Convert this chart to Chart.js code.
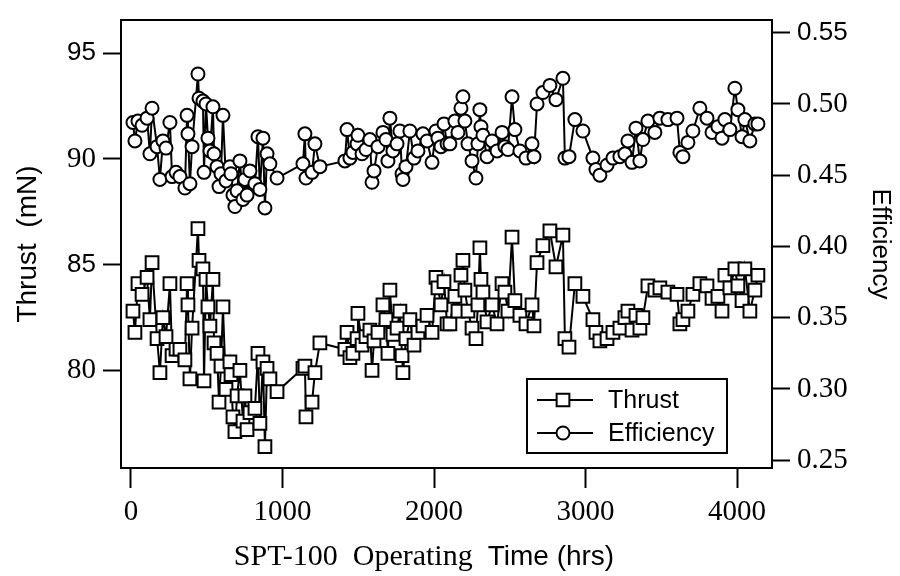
<!DOCTYPE html>
<html>
<head>
<meta charset="utf-8">
<script src="https://cdn.jsdelivr.net/npm/chart.js@4.4.0/dist/chart.umd.min.js"></script>
<style>
  html, body { margin: 0; padding: 0; background: #fff; }
  canvas { display: block; }
</style>
</head>
<body>
<canvas id="chart" width="900" height="576"></canvas>
<script>
// operating time of each test point (hrs)
var hours = [13, 26, 46, 73, 106, 125, 139, 172, 191, 211, 231, 257, 271, 297, 323, 356, 370, 376, 389, 403,
  442, 449, 475, 482, 495, 508, 521, 541, 548, 568, 581, 594, 607, 627, 653, 660, 673, 686, 700, 719,
  739, 752, 766, 785, 818, 838, 851, 871, 884, 898, 917, 964,
  1135, 1148, 1155, 1195, 1214, 1247,
  1412, 1426, 1445, 1465, 1492, 1498, 1525, 1551, 1577, 1591, 1604, 1630, 1663, 1683, 1696, 1709, 1729, 1756,
  1775, 1789, 1795, 1815, 1841, 1868, 1894, 1927, 1954, 1987, 2013, 2026, 2046, 2066, 2086,
  2105, 2138, 2158, 2178, 2191, 2204, 2224, 2251, 2277, 2290, 2303, 2310, 2323, 2350, 2383, 2416, 2449, 2468,
  2488, 2515, 2534, 2567, 2607, 2647, 2660, 2680,
  2719, 2765, 2805, 2851, 2864, 2891, 2930, 2983, 3049, 3069, 3095,
  3142, 3181, 3227, 3260, 3280, 3307, 3333, 3359, 3379, 3412, 3458, 3491, 3544, 3604, 3623, 3643, 3676, 3709,
  3755, 3802, 3835, 3874, 3901, 3920, 3953, 3986, 4006, 4033, 4052, 4085, 4118, 4138];

// thrust (mN)
var thrust = [82.8, 81.8, 84.1, 83.6, 84.4, 82.4, 85.1, 81.5, 79.9, 82.5, 81.6, 84.1, 80.7, 81.0, 81.0, 80.5, 84.1, 83.1, 79.6, 82.0,
  86.7, 85.2, 84.8, 79.5, 84.3, 83.0, 82.1, 84.3, 81.3, 80.8, 78.5, 80.2, 83.0, 79.1, 80.4, 79.8, 77.8, 77.1, 78.8, 80.0,
  77.6, 78.8, 77.2, 78.0, 78.2, 80.8, 77.5, 80.4, 76.4, 80.1, 79.6, 79.0,
  80.1, 80.2, 77.8, 78.5, 79.9, 81.3,
  81.0, 81.8, 80.6, 80.8, 81.5, 82.7, 81.2, 81.6, 81.9, 80.0, 81.4, 81.8, 83.1, 82.4, 80.8, 83.8, 81.7, 82.0,
  82.8, 80.7, 79.9, 81.5, 82.4, 81.2, 81.8, 82.1, 82.6, 81.8, 84.4, 83.9, 83.1, 84.2, 82.2,
  82.2, 83.5, 82.8, 84.5, 85.2, 83.8, 82.8, 82.0, 81.5, 83.1, 85.8, 84.3, 83.7, 82.3, 83.1, 82.2, 84.1, 83.7,
  82.8, 86.3, 83.3, 82.6, 82.2, 83.1, 82.1, 85.1,
  85.9, 86.6, 84.9, 86.4, 81.5, 81.1, 84.1, 83.5, 82.4, 81.8, 81.4,
  81.5, 81.8, 82.0, 82.5, 82.8, 81.9, 82.6, 82.0, 82.5, 84.0, 83.8, 83.9, 83.7, 83.6, 82.2, 82.4, 82.8, 83.6,
  84.1, 84.0, 83.4, 83.5, 82.8, 84.5, 83.9, 84.8, 84.0, 83.3, 84.8, 82.8, 83.8, 84.5];

// efficiency
var efficiency = [0.487, 0.474, 0.488, 0.485, 0.490, 0.465, 0.497, 0.470, 0.447, 0.474, 0.469, 0.487, 0.449, 0.452, 0.449, 0.441, 0.492, 0.479, 0.444, 0.470,
  0.521, 0.504, 0.502, 0.452, 0.500, 0.476, 0.467, 0.498, 0.465, 0.456, 0.442, 0.451, 0.492, 0.446, 0.456, 0.451, 0.436, 0.428, 0.439, 0.460,
  0.433, 0.447, 0.436, 0.453, 0.444, 0.477, 0.440, 0.476, 0.427, 0.465, 0.458, 0.448,
  0.458, 0.479, 0.448, 0.452, 0.472, 0.456,
  0.460, 0.482, 0.462, 0.466, 0.472, 0.478, 0.465, 0.468, 0.475, 0.445, 0.453, 0.470, 0.480, 0.475, 0.460, 0.490, 0.467, 0.472,
  0.481, 0.451, 0.447, 0.456, 0.481, 0.462, 0.467, 0.479, 0.474, 0.459, 0.481, 0.476, 0.470, 0.486, 0.472,
  0.472, 0.488, 0.480, 0.497, 0.505, 0.488, 0.472, 0.460, 0.448, 0.472, 0.496, 0.484, 0.478, 0.463, 0.474, 0.467, 0.480, 0.470,
  0.468, 0.505, 0.482, 0.467, 0.462, 0.472, 0.463, 0.500,
  0.508, 0.513, 0.503, 0.518, 0.462, 0.463, 0.489, 0.481, 0.462, 0.454, 0.450,
  0.457, 0.462, 0.463, 0.465, 0.474, 0.459, 0.483, 0.460, 0.475, 0.488, 0.480, 0.490, 0.489, 0.490, 0.466, 0.463, 0.473, 0.481,
  0.497, 0.490, 0.480, 0.484, 0.476, 0.489, 0.482, 0.511, 0.496, 0.477, 0.489, 0.474, 0.486, 0.486];

var hourTicks = [0, 1000, 2000, 3000, 4000];
var thrustTicks = [80, 85, 90, 95];
var effTicks = [0.25, 0.30, 0.35, 0.40, 0.45, 0.50, 0.55];

var SERIF = '"Liberation Serif", "Times New Roman", serif';
var SANS = '"Liberation Sans", Arial, sans-serif';

function points(ys) {
  return hours.map(function (h, i) { return { x: h, y: ys[i] }; });
}
function fixTicks(list) {
  return function (axis) { axis.ticks = list.map(function (v) { return { value: v }; }); };
}
// the scan mixes typefaces on the tick labels: pick by tick index
function tickFont(sansIdx) {
  return function (c) {
    if (sansIdx.indexOf(c.index) >= 0) return { family: SANS, size: 26, lineHeight: 1 };
    return { family: SERIF, size: 29, lineHeight: 1 };
  };
}

var axisGrid = function (len) {
  return { drawOnChartArea: false, drawTicks: true, tickLength: len, tickWidth: 2, tickColor: '#000' };
};
var axisBorder = { display: true, color: '#000', width: 2 };

var extras = {
  id: 'extras',
  afterDraw: function (chart) {
    var ctx = chart.ctx, a = chart.chartArea;
    ctx.save();
    ctx.strokeStyle = '#000';
    ctx.lineWidth = 2;
    // top edge of the frame
    ctx.beginPath();
    ctx.moveTo(a.left, a.top);
    ctx.lineTo(a.right, a.top);
    ctx.stroke();

    // legend box, lower right
    var bx = a.right - 245, by = a.bottom - 89, bw = 200, bh = 74;
    ctx.strokeRect(bx, by, bw, bh);
    ctx.font = '25px ' + SANS;
    ctx.textBaseline = 'middle';
    chart.data.datasets.forEach(function (ds, i) {
      var y = by + 21 + i * 33, mx = bx + 36;
      ctx.beginPath();
      ctx.moveTo(bx + 10, y);
      ctx.lineTo(bx + 66, y);
      ctx.stroke();
      ctx.beginPath();
      if (ds.pointStyle === 'rect') {
        var s = ds.pointRadius * Math.SQRT1_2;
        ctx.rect(mx - s, y - s, 2 * s, 2 * s);
      } else {
        ctx.arc(mx, y, ds.pointRadius, 0, Math.PI * 2);
      }
      ctx.fillStyle = '#fff';
      ctx.fill();
      ctx.stroke();
      ctx.fillStyle = '#000';
      ctx.fillText(ds.label, bx + 81, y + 1);
    });

    // x axis title, serif and sans as in the original
    var p1 = 'SPT-100  Operating  ', p2 = 'Time (hrs)';
    ctx.font = '30px ' + SERIF;
    var w1 = ctx.measureText(p1).width;
    ctx.font = '28px ' + SANS;
    var w2 = ctx.measureText(p2).width;
    var x0 = 424 - (w1 + w2) / 2;
    ctx.textBaseline = 'alphabetic';
    ctx.fillStyle = '#000';
    ctx.font = '30px ' + SERIF;
    ctx.fillText(p1, x0, 565);
    ctx.font = '28px ' + SANS;
    ctx.fillText(p2, x0 + w1, 565);
    ctx.restore();
  }
};

new Chart(document.getElementById('chart'), {
  type: 'line',
  data: {
    datasets: [{
      label: 'Thrust',
      data: points(thrust),
      yAxisID: 'y',
      borderColor: '#000',
      borderWidth: 2,
      pointStyle: 'rect',
      pointRadius: 9,
      pointBackgroundColor: '#fff',
      pointBorderColor: '#000',
      pointBorderWidth: 2,
      fill: false,
      tension: 0
    }, {
      label: 'Efficiency',
      data: points(efficiency),
      yAxisID: 'y1',
      borderColor: '#000',
      borderWidth: 2,
      pointStyle: 'circle',
      pointRadius: 6.5,
      pointBackgroundColor: '#fff',
      pointBorderColor: '#000',
      pointBorderWidth: 2,
      fill: false,
      tension: 0
    }]
  },
  options: {
    responsive: false,
    animation: false,
    devicePixelRatio: 1,
    layout: { padding: { top: 9, left: 0, right: 0, bottom: 0 } },
    plugins: { legend: { display: false }, tooltip: { enabled: false } },
    scales: {
      x: {
        type: 'linear',
        position: 'bottom',
        min: -66,
        max: 4231,
        afterBuildTicks: fixTicks(hourTicks),
        afterFit: function (s) { s.height = 108; },
        grid: axisGrid(20),
        border: axisBorder,
        ticks: {
          color: '#000', font: { family: SERIF, size: 29, lineHeight: 1 }, padding: 10,
          maxRotation: 0, autoSkip: false, callback: function (v) { return String(v); }
        }
      },
      y: {
        type: 'linear',
        position: 'left',
        min: 75.385,
        max: 96.57,
        afterBuildTicks: fixTicks(thrustTicks),
        afterFit: function (s) { s.width = 121; },
        grid: axisGrid(18),
        border: axisBorder,
        ticks: { color: '#000', font: tickFont([1, 3]), padding: 7 },
        title: { display: true, text: 'Thrust  (mN)', color: '#000', font: { family: SANS, size: 28, lineHeight: 1 }, padding: { top: 14, bottom: 0 } }
      },
      y1: {
        type: 'linear',
        position: 'right',
        min: 0.2445,
        max: 0.5589,
        afterBuildTicks: fixTicks(effTicks),
        afterFit: function (s) { s.width = 128; },
        grid: axisGrid(18),
        border: axisBorder,
        ticks: { color: '#000', font: tickFont([6]), padding: 7, callback: function (v) { return v.toFixed(2); } },
        title: { display: true, text: 'Efficiency', color: '#000', font: { family: SANS, size: 26, lineHeight: 1 }, padding: { top: 7, bottom: 0 } }
      }
    }
  },
  plugins: [extras]
});
</script>
</body>
</html>
